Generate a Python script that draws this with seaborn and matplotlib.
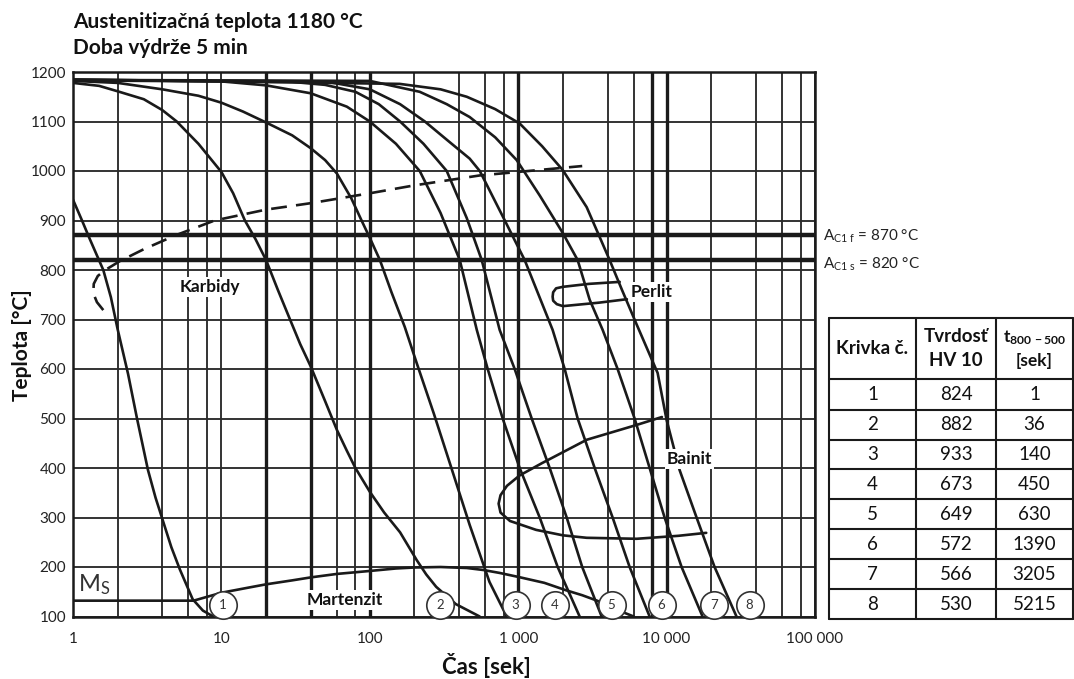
import matplotlib
matplotlib.use("Agg")
import matplotlib.pyplot as plt
from matplotlib.ticker import FixedLocator, NullFormatter
import seaborn as sns

# ---------------- data ----------------
title_lines = ["Austenitizačná teplota 1180 °C", "Doba výdrže 5 min"]
x_label = "Čas [sek]"
y_label = "Teplota [°C]"
x_ticks = [1, 10, 100, 1000, 10000, 100000]
x_tick_labels = ["1", "10", "100", "1 000", "10 000", "100 000"]
y_ticks = [100, 200, 300, 400, 500, 600, 700, 800, 900, 1000, 1100, 1200]
x_minor_grid = [2, 4, 6, 8, 20, 40, 60, 80, 200, 400, 600, 800,
                2000, 4000, 6000, 8000, 20000, 40000, 60000, 80000]
x_heavy_grid = [20, 40, 100, 1000, 8000, 10000]

ac1f = 870
ac1s = 820
ac1f_label = r"A$_{\mathregular{C1\ f}}$ = 870 °C"
ac1s_label = r"A$_{\mathregular{C1\ s}}$ = 820 °C"

curve1_t = [1, 1.15, 1.3, 1.6, 1.8, 2.0, 2.35, 2.7, 3.2, 3.6, 4.0, 4.6, 5.25, 6.4, 7.5, 8.8]
curve1_T = [942, 900, 862, 800, 745, 680, 590, 500, 396, 340, 297, 240, 195, 135, 112, 100]
curve2_t = [1, 1.5, 2, 3, 4, 5, 7, 10, 12, 14.4, 17, 20, 24, 29, 34, 40, 50, 60, 70, 80,
            100, 125, 160, 207, 240, 280, 380, 550]
curve2_T = [1178, 1172, 1161, 1145, 1123, 1100, 1055, 998, 955, 900, 862, 820, 760, 700, 650,
            605, 535, 477, 435, 400, 352, 310, 270, 214, 185, 160, 125, 100]
curve3_t = [1, 2, 4, 7, 10, 14, 20, 30, 40, 50, 60, 75, 88, 100, 117, 140, 172, 207, 270,
            346, 471, 640, 837]
curve3_T = [1182, 1178, 1165, 1152, 1138, 1120, 1098, 1072, 1046, 1022, 995, 945, 900, 865,
            820, 755, 685, 612, 510, 410, 285, 170, 100]
curve4_t = [1, 10, 20, 40, 70, 100, 150, 217, 300, 404, 526, 623, 786, 1023, 1396, 1845, 2594]
curve4_T = [1183, 1181, 1173, 1157, 1130, 1100, 1055, 1000, 915, 820, 679, 600, 500, 400,
            300, 200, 100]
curve5_t = [1, 30, 50, 80, 115, 160, 230, 330, 450, 568, 750, 947, 1233, 1630, 2122, 2700, 3650]
curve5_T = [1184, 1180, 1174, 1160, 1135, 1100, 1055, 1000, 905, 820, 679, 600, 500, 400,
            300, 200, 100]
curve6_t = [1, 50, 100, 160, 235, 340, 471, 551, 800, 1106, 1706, 2057, 2516, 3276, 4327,
            5634, 7685]
curve6_T = [1184, 1181, 1165, 1135, 1100, 1060, 1025, 1000, 904, 820, 679, 600, 500, 400,
            300, 200, 100]
curve7_t = [1, 100, 217, 330, 471, 700, 977, 1400, 1995, 2516, 3030, 3707, 4677, 6087, 7685,
            9694, 12620, 17470]
curve7_T = [1184, 1182, 1160, 1135, 1109, 1068, 1022, 950, 875, 820, 740, 679, 600, 500, 400,
            300, 200, 100]
curve8_t = [1, 159, 300, 450, 700, 1023, 1450, 1995, 2893, 3500, 4133, 5000, 6283, 8700,
            10000, 12230, 15920, 21050, 29580]
curve8_T = [1185, 1176, 1165, 1150, 1125, 1096, 1050, 1002, 927, 870, 820, 760, 690, 592,
            497, 396, 300, 200, 100]

ms_t = [1, 6.5, 10, 15, 20, 30, 40, 60, 100, 150, 200, 300, 450, 580, 750, 1000, 1500, 2100,
        2700, 3400, 4500, 6000]
ms_T = [132, 132, 148, 158, 165, 173, 179, 186, 192, 197, 199, 200, 198, 194, 188, 180, 168,
        153, 143, 132, 115, 100]

carb_t = [1.6, 1.45, 1.37, 1.38, 1.47, 1.65, 2.07, 3.0, 4.9, 9, 20, 40, 100, 200, 550, 2700]
carb_T = [719, 735, 753, 772, 788, 800, 818, 842, 870, 900, 922, 935, 955, 971, 991, 1010]

perlit_t = [4830, 3000, 2000, 1800, 1720, 1706, 1720, 1820, 2000, 3500, 5400]
perlit_T = [776, 772, 766, 763, 755, 746, 738, 731, 727, 734, 741]

bain_t = [9300, 6283, 2893, 1450, 1023, 840, 760, 738, 760, 880, 1320, 2000, 2893, 6283,
          12000, 18500]
bain_T = [503, 487, 457, 410, 385, 364, 345, 328, 310, 293, 275, 264, 259, 257, 263, 269]

circle_t = [10.2, 297, 961, 1763, 4260, 9250, 21000, 36200]
circle_T = [123, 123, 123, 123, 123, 123, 123, 123]
circle_labels = ["1", "2", "3", "4", "5", "6", "7", "8"]

phase_labels = ["Karbidy", "Perlit", "Bainit", "Martenzit"]
phase_t = [8.4, 7925, 14290, 68]
phase_T = [766, 756, 418, 133]

table_header = ["Krivka č.", "Tvrdosť\nHV 10", r"$\mathbf{t}_{\mathbf{800\,-500}}$" + "\n[sek]"]
krivka = ["1", "2", "3", "4", "5", "6", "7", "8"]
tvrdost = [824, 882, 933, 673, 649, 572, 566, 530]
t800_500 = [1, 36, 140, 450, 630, 1390, 3205, 5215]

# ---------------- style ----------------
sns.set_theme(style="white")
plt.rcParams["font.family"] = ["Lato", "DejaVu Sans"]
plt.rcParams["mathtext.fontset"] = "custom"
plt.rcParams["mathtext.rm"] = "Lato"
plt.rcParams["mathtext.bf"] = "Lato:bold"
plt.rcParams["mathtext.it"] = "Lato:italic"

W, H = 1074, 679
fig = plt.figure(figsize=(W / 100, H / 100), dpi=100)
fig.patch.set_facecolor("white")
L, R, B, TOP = 73, 815, 616.5, 72
ax = fig.add_axes([L / W, 1 - B / H, (R - L) / W, (B - TOP) / H])
ax.set_facecolor("white")
ax.set_xscale("log")

grid_c = "#2b2b2b"
ink = "#1a1a1a"

# grid
ax.set_xticks(x_ticks)
ax.set_xticklabels(x_tick_labels)
ax.xaxis.set_minor_locator(FixedLocator(x_minor_grid))
ax.xaxis.set_minor_formatter(NullFormatter())
ax.set_yticks(y_ticks)
ax.set_yticklabels([str(v) for v in y_ticks])
ax.grid(which="major", axis="both", color=grid_c, lw=1.35, zorder=0)
ax.grid(which="minor", axis="x", color=grid_c, lw=1.35, zorder=0)
for v in x_heavy_grid:
    ax.axvline(v, color=ink, lw=2.4, zorder=1)
ax.axhline(ac1f, color=ink, lw=3.2, zorder=1)
ax.axhline(ac1s, color=ink, lw=3.2, zorder=1)

ax.tick_params(axis="x", which="major", direction="out", length=5, width=1.5,
               color=ink, pad=6, labelsize=11, labelcolor="#222")
ax.tick_params(axis="x", which="minor", length=0)
ax.tick_params(axis="y", which="major", length=0, pad=5, labelsize=11, labelcolor="#222")
for s in ax.spines.values():
    s.set_color(ink)
    s.set_linewidth(1.8)

# curves
curves = [(curve1_t, curve1_T), (curve2_t, curve2_T), (curve3_t, curve3_T),
          (curve4_t, curve4_T), (curve5_t, curve5_T), (curve6_t, curve6_T),
          (curve7_t, curve7_T), (curve8_t, curve8_T)]
for ct, cT in curves:
    sns.lineplot(x=ct, y=cT, ax=ax, sort=False, estimator=None, color=ink,
                 lw=1.9, zorder=3, legend=False)

sns.lineplot(x=ms_t, y=ms_T, ax=ax, sort=False, estimator=None, color=ink,
             lw=1.9, zorder=3, legend=False)
sns.lineplot(x=carb_t, y=carb_T, ax=ax, sort=False, estimator=None, color=ink,
             lw=1.9, zorder=3, legend=False, linestyle=(0, (6, 3.5)))
sns.lineplot(x=perlit_t, y=perlit_T, ax=ax, sort=False, estimator=None, color=ink,
             lw=1.9, zorder=3, legend=False)
sns.lineplot(x=bain_t, y=bain_T, ax=ax, sort=False, estimator=None, color=ink,
             lw=1.9, zorder=3, legend=False)

ax.set_xlim(1, 100000)
ax.set_ylim(100, 1200)

# numbered circles
ax.scatter(circle_t, circle_T, s=390, facecolor="white", edgecolor="#333333",
           linewidth=1.2, zorder=5, clip_on=False)
for ct, cT, lab in zip(circle_t, circle_T, circle_labels):
    ax.text(ct, cT, lab, ha="center", va="center", fontsize=9.5, color="#333333", zorder=6)

# phase labels
for lab, pt, pT in zip(phase_labels, phase_t, phase_T):
    ax.text(pt, pT, lab, ha="center", va="center", fontsize=12.5, fontweight="bold",
            color="#111111", zorder=4,
            bbox=dict(facecolor="white", edgecolor="none", pad=1.5))

ax.text(1.08, 150, r"M$_{\mathregular{S}}$", ha="left", va="baseline", fontsize=17,
        color="#333333", zorder=4)

ax.set_xlabel("")
ax.set_ylabel("")

# titles & axis labels
fig.text(L / W, 1 - 22 / H, title_lines[0], ha="left", va="center",
         fontsize=15, fontweight="bold", color="#111111")
fig.text(L / W, 1 - 48 / H, title_lines[1], ha="left", va="center",
         fontsize=15, fontweight="bold", color="#111111")
fig.text(486 / W, 1 - 665 / H, x_label, ha="center", va="center",
         fontsize=16, fontweight="bold", color="#111111")
fig.text(22 / W, 1 - 345 / H, y_label, ha="center", va="center", rotation=90,
         fontsize=15, fontweight="bold", color="#111111")

# Ac1 labels
fig.text(823 / W, 1 - 236 / H, ac1f_label, ha="left", va="center", fontsize=11, color="#222")
fig.text(823 / W, 1 - 264 / H, ac1s_label, ha="left", va="center", fontsize=11, color="#222")

# table
tx0, tx1, ty0, ty1 = 829, 1073, 318, 619
tax = fig.add_axes([tx0 / W, 1 - ty1 / H, (tx1 - tx0) / W, (ty1 - ty0) / H])
tax.set_xlim(tx0, tx1)
tax.set_ylim(ty1, ty0)
tax.axis("off")
col_edges = [829, 916, 996, 1073]
row_edges = [318, 379, 410, 440, 469, 499, 529, 559, 589, 619]
for xe in col_edges:
    tax.plot([xe, xe], [row_edges[0], row_edges[-1]], color=ink, lw=1.5, clip_on=False)
for ye in row_edges:
    tax.plot([col_edges[0], col_edges[-1]], [ye, ye], color=ink, lw=1.5, clip_on=False)
col_c = [(col_edges[i] + col_edges[i + 1]) / 2 for i in range(3)]
header_sizes = [13.5, 13.5, 12.5]
for cx, lab, fs in zip(col_c, table_header, header_sizes):
    tax.text(cx, (row_edges[0] + row_edges[1]) / 2, lab, ha="center", va="center",
             fontsize=fs, fontweight="bold", color="#111111", linespacing=1.45)
for i in range(8):
    cy = (row_edges[i + 1] + row_edges[i + 2]) / 2
    vals = [krivka[i], str(tvrdost[i]), str(t800_500[i])]
    for cx, v in zip(col_c, vals):
        tax.text(cx, cy, v, ha="center", va="center", fontsize=13.5, color="#111111")

fig.savefig("out.png", dpi=100, facecolor="white")
